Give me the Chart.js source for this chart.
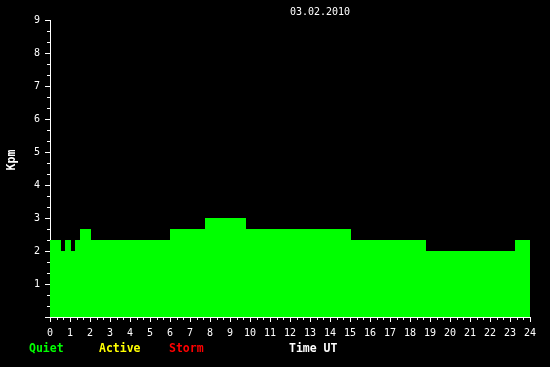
<!DOCTYPE html>
<html>
<head>
<meta charset="utf-8">
<script src="https://cdn.jsdelivr.net/npm/chart.js@4.4.0/dist/chart.umd.min.js"></script>
<style>
  html, body { margin: 0; padding: 0; background: #000; }
</style>
</head>
<body>
<canvas id="kpmChart" width="550" height="367"></canvas>
<script>
// Kpm index, 03.02.2010 - step values (start hour of each step, UT)
const dateLabel = '03.02.2010';
const stepHours = [0, 0.55, 0.75, 1.05, 1.25, 1.5, 2.05, 6, 7.75, 9.8, 15.05, 18.8, 23.25, 24];
const kpmValues = [2.33, 2, 2.33, 2, 2.33, 2.67, 2.33, 2.67, 3, 2.67, 2.33, 2, 2.33, 2.33];
const legendNames = ['Quiet', 'Active', 'Storm'];
const legendColors = ['#00ff00', '#ffff00', '#ff0000'];
const xAxisTitle = 'Time UT';
const yAxisTitle = 'Kpm';

const mono = "'DejaVu Sans Mono', monospace";

// minor ticks, date, legend, y title
const extras = {
  id: 'extras',
  beforeDraw(chart) {
    const c = chart.ctx;
    c.save();
    c.fillStyle = '#000';
    c.fillRect(0, 0, chart.width, chart.height);
    c.restore();
  },
  afterDraw(chart) {
    const c = chart.ctx;
    const xs = chart.scales.x, ys = chart.scales.y;
    const area = chart.chartArea;
    c.save();
    c.strokeStyle = '#fff';
    c.lineWidth = 1;
    c.beginPath();
    for (let h = 0; h < 24; h++) {
      for (let k = 1; k < 3; k++) {
        const px = Math.round(xs.getPixelForValue(h + k / 3)) + 0.5;
        c.moveTo(px, area.bottom);
        c.lineTo(px, area.bottom + 3);
      }
    }
    for (let v = 0; v < 9; v++) {
      for (let k = 1; k < 3; k++) {
        const py = Math.round(ys.getPixelForValue(v + k / 3)) + 0.5;
        c.moveTo(area.left, py);
        c.lineTo(area.left - 3, py);
      }
    }
    c.stroke();

    c.fillStyle = '#fff';
    c.font = '10px ' + mono;
    c.textAlign = 'center';
    c.textBaseline = 'middle';
    c.fillText(dateLabel, 320, 12);

    c.font = 'bold 11.5px ' + mono;
    c.save();
    c.translate(12, 160);
    c.rotate(-Math.PI / 2);
    c.fillText(yAxisTitle, 0, 0);
    c.restore();

    c.textAlign = 'left';
    const legendX = [29, 99, 169];
    legendNames.forEach((name, i) => {
      c.fillStyle = legendColors[i];
      c.fillText(name, legendX[i], 349);
    });
    c.fillStyle = '#fff';
    c.fillText(xAxisTitle, 289, 349);
    c.restore();
  }
};

new Chart(document.getElementById('kpmChart'), {
  type: 'line',
  data: {
    datasets: [{
      data: stepHours.map((h, i) => ({ x: h, y: kpmValues[i] })),
      stepped: true,
      fill: 'origin',
      backgroundColor: '#00ff00',
      borderColor: '#00ff00',
      borderWidth: 0,
      pointRadius: 0
    }]
  },
  options: {
    responsive: false,
    animation: false,
    layout: { padding: { top: 20, right: 20, left: 0, bottom: 0 } },
    plugins: { legend: { display: false }, tooltip: { enabled: false } },
    scales: {
      x: {
        type: 'linear',
        min: 0,
        max: 24,
        afterFit(s) { s.height = 50; },
        border: { display: true, color: '#fff', width: 1 },
        grid: { drawOnChartArea: false, tickLength: 5, color: '#fff' },
        ticks: {
          stepSize: 1,
          autoSkip: false,
          maxRotation: 0,
          padding: 5,
          color: '#fff',
          font: { family: mono, size: 10 }
        }
      },
      y: {
        min: 0,
        max: 9,
        afterFit(s) { s.width = 50; },
        border: { display: true, color: '#fff', width: 1 },
        grid: { drawOnChartArea: false, tickLength: 5, color: '#fff' },
        ticks: {
          stepSize: 1,
          padding: 5,
          color: '#fff',
          font: { family: mono, size: 10 },
          callback: v => v === 0 ? '' : v
        }
      }
    }
  },
  plugins: [extras]
});
</script>
</body>
</html>
